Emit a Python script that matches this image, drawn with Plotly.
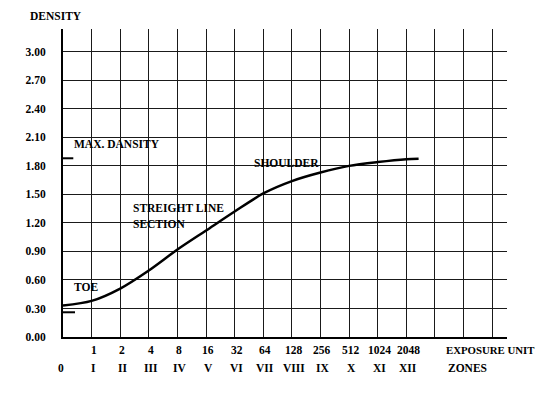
import plotly.graph_objects as go

# ---- data ----
zone_index = [0, 1, 2, 3, 4, 5, 6, 7, 8, 9, 10, 11, 12, 12.43]
density = [0.33, 0.38, 0.51, 0.70, 0.92, 1.12, 1.32, 1.51, 1.64, 1.73, 1.80, 1.84, 1.87, 1.875]

exposure_units = ["1", "2", "4", "8", "16", "32", "64", "128", "256", "512", "1024", "2048"]
zone_labels = ["0", "I", "II", "III", "IV", "V", "VI", "VII", "VIII", "IX", "X", "XI", "XII"]
y_ticks = [0.0, 0.3, 0.6, 0.9, 1.2, 1.5, 1.8, 2.1, 2.4, 2.7, 3.0]

max_density = 1.88
base_density = 0.26

FONT = "Liberation Serif"
fs = 11.5

# page body has an 8px default margin; work in reference pixel coords and shift
OFF = 8
W, H = 550 - 2 * OFF, 395 - 2 * OFF
L, R, T, B = 63, 507, 29, 337   # plot area edges in reference pixels

fig = go.Figure()

fig.add_trace(go.Scatter(
    x=zone_index, y=density, mode="lines",
    line=dict(color="black", width=2.5, shape="spline", smoothing=0.8),
    hoverinfo="skip", showlegend=False,
))

# short markers on the density axis
fig.add_trace(go.Scatter(x=[0, 0.36], y=[max_density, max_density], mode="lines",
                         line=dict(color="black", width=2), showlegend=False, hoverinfo="skip"))
fig.add_trace(go.Scatter(x=[0, 0.42], y=[base_density, base_density], mode="lines",
                         line=dict(color="black", width=2), showlegend=False, hoverinfo="skip"))

plot_h = B - T
plot_w = R - L

def px_to_paper_x(px):
    return (px - L) / plot_w

def px_to_paper_y(py):
    return (B - py) / plot_h

annotations = []
for i, lab in enumerate(exposure_units):
    annotations.append(dict(x=i + 1, y=px_to_paper_y(350), xref="x", yref="paper",
                            text="<b>%s</b>" % lab, showarrow=False,
                            xanchor="center", yanchor="middle", xshift=2,
                            font=dict(family=FONT, size=fs, color="black")))
for i, lab in enumerate(zone_labels):
    annotations.append(dict(x=i, y=px_to_paper_y(368), xref="x", yref="paper",
                            text="<b>%s</b>" % lab, showarrow=False,
                            xanchor="center", yanchor="middle",
                            xshift=(-2 if i == 0 else 2),
                            font=dict(family=FONT, size=fs, color="black")))

texts = [
    ("<b>DENSITY</b>", 28, 16, fs),
    ("<b>MAX. DANSITY</b>", 72, 144, fs),
    ("<b>SHOULDER</b>", 252, 163, fs),
    ("<b>STREIGHT LINE</b>", 131, 208, fs),
    ("<b>SECTION</b>", 131, 224, fs),
    ("<b>TOE</b>", 72, 287, fs),
    ("<b>EXPOSURE UNIT</b>", 444, 350, 10.8),
    ("<b>ZONES</b>", 446, 368, fs),
]
for t, px, py, s in texts:
    annotations.append(dict(x=px_to_paper_x(px), y=px_to_paper_y(py), xref="paper", yref="paper",
                            text=t, showarrow=False, xanchor="left", yanchor="middle",
                            font=dict(family=FONT, size=s, color="black")))

fig.update_layout(
    width=W, height=H,
    margin=dict(l=L - OFF, r=W - (R - OFF), t=T - OFF, b=H - (B - OFF), pad=0),
    paper_bgcolor="white", plot_bgcolor="white",
    font=dict(family=FONT, size=fs, color="black"),
    xaxis=dict(range=[0, 15.52], tickvals=list(range(0, 16)), showticklabels=False,
               showgrid=True, gridcolor="#1a1a1a", gridwidth=1.2,
               showline=True, linecolor="black", linewidth=2, zeroline=False, ticks=""),
    yaxis=dict(range=[0, 3.24], tickvals=y_ticks, ticktext=["<b>%.2f</b>" % v for v in y_ticks],
               showgrid=True, gridcolor="#1a1a1a", gridwidth=1.2,
               showline=True, linecolor="black", linewidth=2, zeroline=False,
               ticks="outside", ticklen=13, tickcolor="rgba(0,0,0,0)",
               tickfont=dict(family=FONT, size=fs, color="black")),
    annotations=annotations,
)

fig.write_html("out.html")
